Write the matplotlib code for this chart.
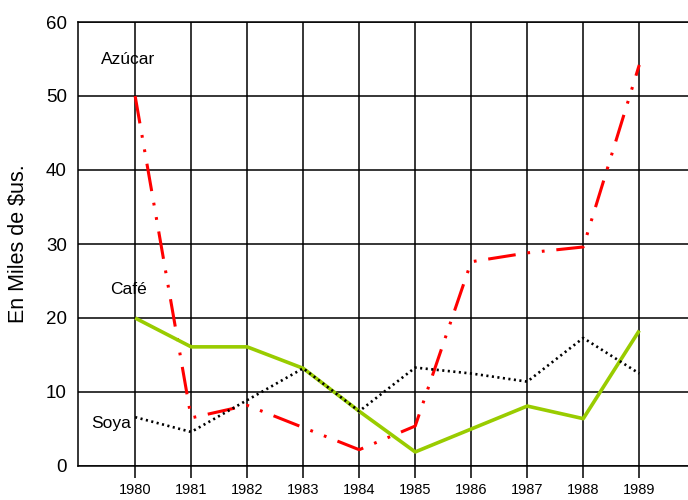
import matplotlib
matplotlib.use("Agg")
import matplotlib.pyplot as plt

plt.rcParams['font.family'] = ['Liberation Sans', 'DejaVu Sans']
plt.rcParams['lines.scale_dashes'] = False

years = [1980, 1981, 1982, 1983, 1984, 1985, 1986, 1987, 1988, 1989]
azucar = [50.0, 6.5, 8.2, 5.2, 2.2, 5.4, 27.6, 28.8, 29.6, 54.2]
cafe = [20.0, 16.1, 16.1, 13.2, 7.4, 1.9, 5.0, 8.1, 6.4, 18.3]
soya = [6.6, 4.6, 8.9, 13.2, 7.4, 13.3, 12.5, 11.4, 17.3, 12.5]
yticks = [0, 10, 20, 30, 40, 50, 60]
ylabel = "En Miles de $us."

fig = plt.figure(figsize=(6.88, 5.0), dpi=100)
ax = fig.add_axes([78/688, 34/500, (688-78)/688, 444/500])

ax.plot(years, azucar, color='#FF0000', lw=2.2,
        linestyle=(0, (20, 8.5, 2, 8.5, 2, 8.5)), zorder=3)
ax.plot(years, cafe, color='#99CC00', lw=2.6, solid_capstyle='butt', zorder=3)
ax.plot(years, soya, color='black', lw=1.9,
        linestyle=(0, (1.5, 2.5)), zorder=3)

ax.set_xlim(1978.98, 1989.87)
ax.set_ylim(0, 60)
ax.set_xticks(years)
ax.set_xticklabels([str(y) for y in years])
ax.set_yticks(yticks)
ax.grid(True, color='black', lw=1.1)
ax.set_axisbelow(True)

for s in ['left', 'top', 'bottom']:
    ax.spines[s].set_color('black')
    ax.spines[s].set_linewidth(1.1)
ax.spines['right'].set_visible(False)

ax.tick_params(axis='x', length=8.5, width=1.1, direction='out', pad=4,
               labelsize=10.5)
ax.tick_params(axis='y', length=0, pad=8, labelsize=13.5)

ax.set_ylabel(ylabel, fontsize=15.5, labelpad=12)

ax.text(1979.875, 54.9, "Azúcar", fontsize=12.5, ha='center', va='center')
ax.text(1979.875, 23.9, "Café", fontsize=12.5, ha='center', va='center')
ax.text(1979.57, 5.7, "Soya", fontsize=12.5, ha='center', va='center')

fig.savefig("out.png", dpi=100)
